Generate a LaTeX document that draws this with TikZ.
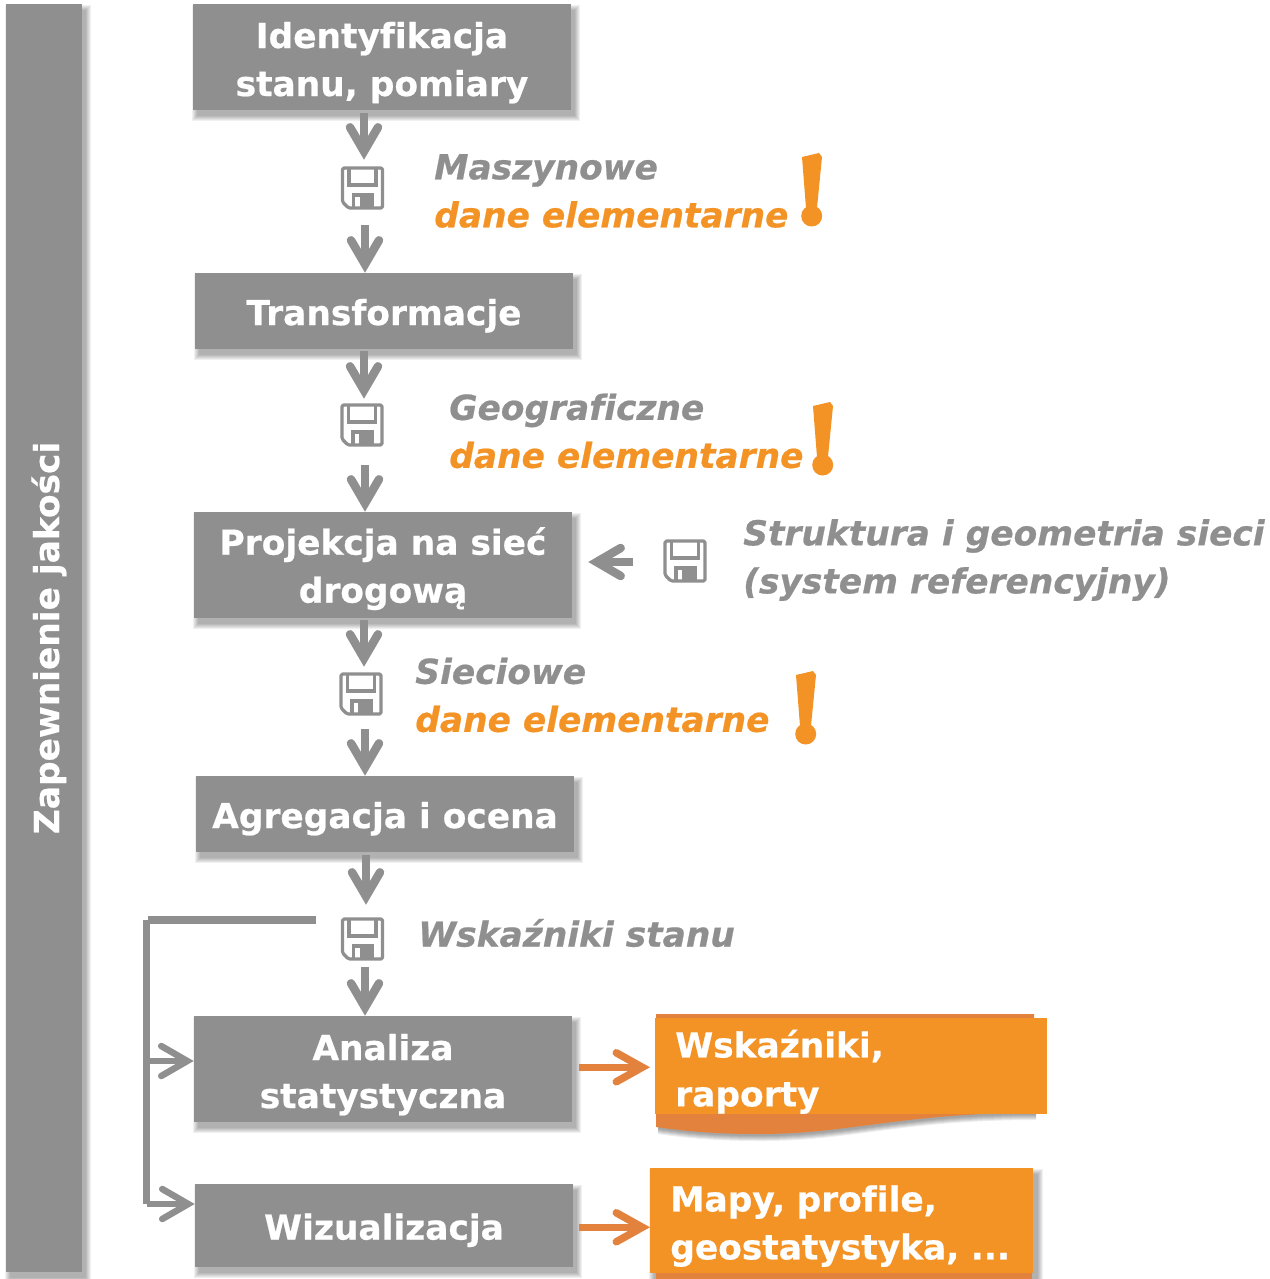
\documentclass[tikz,border=0pt]{standalone}
\usepackage{fontspec}
\setmainfont{DejaVu Sans}[Ligatures=NoCommon,BoldFeatures={FakeBold=0.6},BoldItalicFeatures={FakeBold=0.6}]
\usetikzlibrary{arrows.meta,backgrounds}
\definecolor{boxgray}{HTML}{8F8F8F}
\definecolor{orgfill}{HTML}{F39325}
\definecolor{orgdark}{HTML}{E2823C}
\def\u{0.75pt}
\newcommand{\softshadow}[2]{%
  \foreach \e in {0,...,5}{\fill[black,opacity=.06] ([shift={(4-\e,6-\e)}]#1) rectangle ([shift={(4+\e,6+\e)}]#2);}}
\tikzset{
  strutted/.style={execute at begin node=\rule{0pt}{#1},execute at end node=\rule[-6.5pt]{0pt}{1pt}},
  graybox/.style={strutted=27.6pt,fill=boxgray,text=white,align=center,inner sep=0pt,
    font=\fontsize{25.8pt}{36pt}\selectfont\bfseries},
  twoline/.style={execute at begin node={},execute at end node={}},
  orgbox/.style={fill=orgfill,text=white,anchor=north west,align=left,inner xsep=0pt,inner ysep=0pt,
    font=\fontsize{25.8pt}{36pt}\selectfont\bfseries},
  note/.style={anchor=west,align=left,inner sep=0pt,text=boxgray,
    font=\fontsize{25.8pt}{36pt}\selectfont\bfseries\itshape},
  diskicon/.style={minimum width=44*\u,minimum height=44*\u,inner sep=0pt,
    path picture={
      \begin{scope}[shift={(path picture bounding box.center)}]
        \draw[boxgray,line width=3.2*\u,line join=round,rounded corners=1.5*\u]
          (-20,-20) -- (20,-20) -- (20,20) -- (-14,20) -- (-20,14) -- cycle;
        \draw[boxgray,line width=3.2*\u] (-13.5,-20) -- (-13.5,-3) -- (13.5,-3) -- (13.5,-20);
        \draw[boxgray,line width=3.2*\u] (-9,20) -- (-9,7) -- (10,7) -- (10,20);
        \fill[boxgray] (-3,7) rectangle (11,20);
      \end{scope}}},
  arr/.style={draw=boxgray,line width=8.5*\u,-{Straight Barb[line cap=round,line join=miter,length=24*\u,width=28*\u]}},
  arrthin/.style={draw=boxgray,line width=6.5*\u,-{Straight Barb[line cap=round,line join=miter,length=26*\u,width=30*\u]}},
  orgarr/.style={draw=orgdark,line width=7.5*\u,-{Straight Barb[line cap=round,line join=miter,length=26*\u,width=29*\u]}},
  branchline/.style={draw=boxgray,line width=7*\u},
  excl/.pic={
    \fill[orgfill] (802,157) -- (819,153) -- (822,157) -- (817,208) -- (806,208) -- cycle;
    \fill[orgfill] (811.7,216) ellipse [x radius=10.5,y radius=10.5];
  }
}
\begin{document}
\begin{tikzpicture}[x=0.75pt,y=-0.75pt]
\useasboundingbox (0,0) rectangle (1270,1279);
% left bar
\node[graybox,strutted=29pt,rotate=90,minimum width=1268*\u,minimum height=76*\u] (bar) at (44,638) {Zapewnienie jakości};
% main boxes
\node[graybox,twoline,minimum width=378*\u,minimum height=106*\u] (b1) at (382,57) {\rule{0pt}{29pt}Identyfikacja\\stanu, pomiary};
\node[graybox,minimum width=378*\u,minimum height=76*\u] (b2) at (384,311) {Transformacje};
\node[graybox,twoline,minimum width=378*\u,minimum height=106*\u] (b3) at (383,565) {\rule{0pt}{27pt}Projekcja na sieć\\drogową};
\node[graybox,minimum width=378*\u,minimum height=76*\u] (b4) at (385,814) {Agregacja i ocena};
\node[graybox,twoline,minimum width=378*\u,minimum height=106*\u] (b5) at (383,1069) {\rule{0pt}{29pt}Analiza\\statystyczna};
\node[graybox,minimum width=378*\u,minimum height=83*\u] (b6) at (384,1225.5) {Wizualizacja};
% disks
\node[diskicon] (d1) at (362.5,188) {};
\node[diskicon] (d2) at (362,425) {};
\node[diskicon] (d3) at (361,694) {};
\node[diskicon] (d4) at (362.5,939) {};
\node[diskicon] (d5) at (685,561) {};
% vertical arrows
\draw[arr,shorten <=3*\u,shorten >=6*\u] ([xshift=1.5*\u]d1.north |- b1.south) -- ([xshift=1.5*\u]d1.north);
\draw[arr] ([xshift=2.5*\u,yshift=-15*\u]d1.south) -- ([xshift=2.5*\u]d1.south |- b2.north);
\draw[arr,shorten <=2*\u,shorten >=4*\u] ([xshift=2*\u]d2.north |- b2.south) -- ([xshift=2*\u]d2.north);
\draw[arr] ([xshift=3*\u,yshift=-18*\u]d2.south) -- ([xshift=3*\u]d2.south |- b3.north);
\draw[arr,shorten <=2*\u,shorten >=5*\u] ([xshift=3*\u]d3.north |- b3.south) -- ([xshift=3*\u]d3.north);
\draw[arr] ([xshift=4*\u,yshift=-13*\u]d3.south) -- ([xshift=4*\u]d3.south |- b4.north);
\draw[arr,shorten <=3*\u,shorten >=12*\u] ([xshift=3.5*\u]d4.north |- b4.south) -- ([xshift=3.5*\u]d4.north);
\draw[arr] ([xshift=2.5*\u,yshift=-6*\u]d4.south) -- ([xshift=2.5*\u]d4.south |- b5.north);
% horizontal arrow into b3
\draw[arr,shorten >=16*\u] ([xshift=-30*\u,yshift=-1*\u]d5.west) -- ([yshift=3*\u]b3.east);
% feedback line
\coordinate (fbstart) at (316,920);
\coordinate (fbcorner) at (146.5,920);
\coordinate (fbend) at (146.5,1204);
\draw[branchline,line width=8*\u] (fbstart) -- (148,920);
\draw[branchline] (fbcorner) -- (fbend);
\draw[arrthin] (fbcorner |- 0,1061) -- ([yshift=8*\u]b5.west);
\draw[arrthin] (fbend) -- ([yshift=21.5*\u]b6.west);
% notes
\node[note] (n1) at (434,191) {Maszynowe\\{\color{orgfill}dane elementarne}};
\node[note] (n2) at (449,431) {Geograficzne\\{\color{orgfill}dane elementarne}};
\node[note] (n3) at (415,695) {Sieciowe\\{\color{orgfill}dane elementarne}};
\node[note] (n4) at (743,560) {Struktura i geometria sieci\\(system referencyjny)};
\node[note] (n5) at (418,933) {Wskaźniki stanu};
\pic at (0,0) {excl};
\pic at (11,249) {excl};
\pic at (-6,518) {excl};
% orange results
\foreach \e in {0,...,5}{
  \fill[black,opacity=.07,shift={(2,2+\e)}] (656,1100) -- (1034,1100) -- (1034,1113) .. controls (900,1113) and (850,1134) .. (760,1134) .. controls (720,1134) and (690,1132) .. (656,1127) -- cycle;
}
\path[fill=orgdark] (656,1014) -- (1034,1014) -- (1034,1113) .. controls (900,1113) and (850,1134) .. (760,1134) .. controls (720,1134) and (690,1132) .. (656,1127) -- cycle;
\node[orgbox,execute at begin node=\rule{0pt}{29pt},inner ysep=-2pt,minimum width=392*\u,minimum height=96*\u,text width=352*\u,inner xsep=20*\u,
  font=\fontsize{25.8pt}{36.7pt}\selectfont\bfseries] (o1) at (655,1018) {Wskaźniki,\\raporty};
\path[fill=orgdark] (656,1200) rectangle (1032,1279);
\node[orgbox,execute at begin node=\rule{0pt}{27.5pt},minimum width=383*\u,minimum height=105*\u,text width=343*\u,inner xsep=20*\u] (o2) at (650,1168) {Mapy, profile,\\geostatystyka, ...};
\draw[orgarr] ([xshift=-76*\u,yshift=-1*\u]o1.west) -- ([xshift=-5*\u,yshift=-1*\u]o1.west);
\draw[orgarr] ([xshift=-71*\u,yshift=-6.5*\u]o2.west) -- ([yshift=-6.5*\u]o2.west);
% shadows behind the boxes
\begin{scope}[on background layer]
\softshadow{bar.north east}{bar.south west}
\softshadow{b1.north west}{b1.south east}
\softshadow{b2.north west}{b2.south east}
\softshadow{b3.north west}{b3.south east}
\softshadow{b4.north west}{b4.south east}
\softshadow{b5.north west}{b5.south east}
\softshadow{b6.north west}{b6.south east}
\softshadow{o2.north west}{o2.south east}
\end{scope}
\end{tikzpicture}
\end{document}
